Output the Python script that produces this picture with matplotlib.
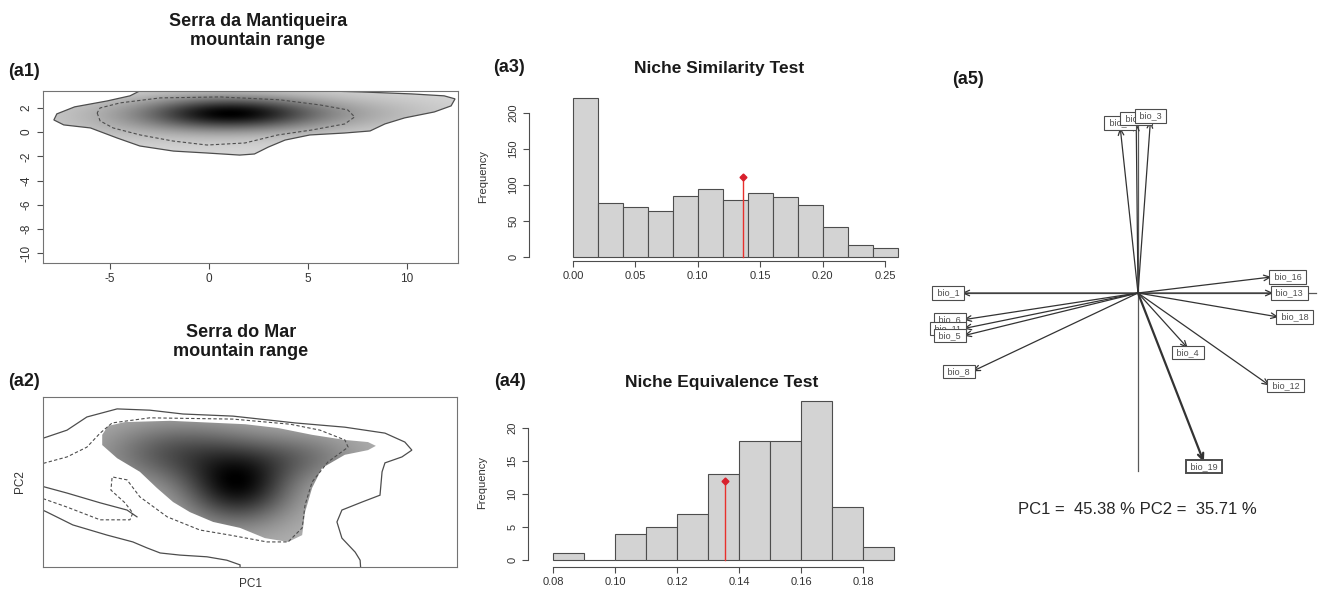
import numpy as np
import matplotlib
matplotlib.use("Agg")
import matplotlib.pyplot as plt
from matplotlib.patches import Polygon

plt.rcParams['font.family'] = ['Liberation Sans', 'DejaVu Sans']
plt.rcParams['axes.unicode_minus'] = False

W, H = 1326, 592

# ---- (a1) Serra da Mantiqueira, PC1 / PC2 units
a1_outer_x = [-3.5, -4.0, -5.15, -6.8, -7.7, -7.85, -7.35, -6.0, -4.65, -3.5, -1.8, -0.1, 1.55, 2.3,
              3.0, 3.85, 5.1, 6.85, 8.15, 8.9, 9.9, 11.4, 12.25, 12.45, 11.9, 10.25, 7.6, 5.7, 5.0, -3.0]
a1_outer_y = [3.41, 3.0, 2.58, 2.09, 1.51, 1.01, 0.6, 0.35, -0.48, -1.14, -1.56, -1.72, -1.89, -1.8,
              -1.23, -0.65, -0.23, -0.07, 0.1, 0.68, 1.18, 1.67, 2.17, 2.75, 3.0, 3.16, 3.33, 3.41, 4.5, 4.5]
a1_mid_x = [-5.66, -5.51, -4.85, -3.48, -1.82, -0.1, 1.82, 3.48, 5.2, 6.87, 7.37, 7.02, 5.61, 3.59,
            0.56, -2.47, -4.49, -5.51]
a1_mid_y = [1.59, 0.93, 0.35, -0.23, -0.73, -1.06, -0.89, -0.23, 0.18, 0.68, 1.26, 1.84, 2.25, 2.67,
            2.91, 2.83, 2.42, 2.0]
# density kernels (centre, spread, weight)
a1_kx = [1.0, -1.0, 6.0]
a1_ky = [1.6, 1.3, 1.6]
a1_sx = [2.8, 5.0, 4.0]
a1_sy = [0.9, 1.3, 1.0]
a1_kw = [1.0, 0.35, 0.25]
a1_xticks = [-5, 0, 5, 10]
a1_yticks = [2, 0, -2, -4, -6, -8, -10]

# ---- (a2) Serra do Mar (no tick values shown, arbitrary units)
a2_outer_x = [-1.2, 5.8, 10.6, 17.9, 25.8, 33.8, 45.9, 60.9, 72.9, 82.6, 87.4, 89.1, 86.7, 82.6, 81.9,
              81.4, 77.1, 72.2, 71.0, 72.2, 75.4, 76.6, 76.8, 47.6, 47.6, 44.4, 39.6, 33.1, 28.3, 25.1,
              21.7, 15.5, 7.2, 1.0, -1.2]
a2_outer_y = [29.9, 32.2, 35.3, 37.2, 36.9, 36.0, 35.5, 33.9, 32.9, 31.5, 29.4, 27.5, 25.9, 24.5, 22.4,
              16.9, 15.3, 13.4, 10.6, 6.8, 3.5, 1.6, -1.2, -1.2, 0.5, 1.6, 2.4, 2.8, 3.3, 4.5,
              5.9, 7.5, 9.9, 12.9, 13.9]
a2_inner_x = [-1.2, 0.5, 5.8, 13.8, 20.3, 22.7]
a2_inner_y = [19.3, 18.8, 17.4, 15.1, 13.4, 11.8]
a2_mid_x = [-1.2, 0.5, 5.8, 10.6, 13.8, 16.7, 25.8, 45.9, 59.7, 66.9, 72.9, 73.7, 68.8, 65.0, 63.3,
            62.6, 59.2, 54.1, 45.2, 37.9, 30.0, 23.4, 20.3, 16.7, 16.4, 19.8, 21.7, 21.0, 13.8, 5.8, -1.2]
a2_mid_y = [24.0, 24.5, 25.9, 28.2, 31.5, 33.9, 35.1, 34.8, 33.6, 32.2, 29.9, 28.2, 24.7, 20.0, 14.6,
            9.2, 5.9, 5.9, 7.5, 8.7, 11.8, 16.5, 20.5, 21.2, 18.1, 15.1, 12.7, 11.1, 11.1, 14.1, 16.5]
a2_occ_x = [14.3, 15.7, 19.8, 30.7, 48.8, 56.8, 65.0, 72.9, 78.5, 80.4, 78.5, 72.9, 67.4, 65.0, 63.3,
            62.6, 59.2, 53.6, 47.6, 41.1, 35.5, 31.4, 27.5, 23.4, 17.9, 14.3]
a2_occ_y = [31.1, 33.2, 34.1, 34.4, 33.6, 32.7, 31.1, 29.9, 29.4, 28.5, 27.5, 26.4, 23.3, 18.6, 12.9,
            7.5, 5.9, 6.8, 9.2, 10.6, 12.9, 15.3, 18.6, 22.4, 25.6, 28.7]
a2_kx = [47, 32, 62]
a2_ky = [19, 27, 26]
a2_sx = [9, 12, 10]
a2_sy = [6, 5, 4]
a2_kw = [1.0, 0.55, 0.35]

# ---- (a3) niche similarity test
a3_breaks = [0.00, 0.02, 0.04, 0.06, 0.08, 0.10, 0.12, 0.14, 0.16, 0.18, 0.20, 0.22, 0.24, 0.26]
a3_counts = [220, 75, 70, 64, 85, 94, 79, 89, 83, 72, 41, 16, 12]
a3_obs, a3_obs_h = 0.136, 111
a3_xticks = [0.00, 0.05, 0.10, 0.15, 0.20, 0.25]
a3_yticks = [0, 50, 100, 150, 200]

# ---- (a4) niche equivalence test
a4_breaks = [0.08, 0.09, 0.10, 0.11, 0.12, 0.13, 0.14, 0.15, 0.16, 0.17, 0.18, 0.19]
a4_counts = [1, 0, 4, 5, 7, 13, 18, 18, 24, 8, 2]
a4_obs, a4_obs_h = 0.1355, 12
a4_xticks = [0.08, 0.10, 0.12, 0.14, 0.16, 0.18]
a4_yticks = [0, 5, 10, 15, 20]

# ---- (a5) variable contributions
a5_names = ['bio_1', 'bio_6', 'bio_11', 'bio_5', 'bio_8', 'bio_2', 'bio_7', 'bio_3',
            'bio_16', 'bio_13', 'bio_18', 'bio_4', 'bio_12', 'bio_19']
a5_pc1 = [-0.99, -0.98, -0.98, -0.98, -0.93, -0.10, -0.01, 0.07,
          0.75, 0.76, 0.79, 0.28, 0.74, 0.37]
a5_pc2 = [0.0, -0.15, -0.20, -0.24, -0.44, 0.93, 0.955, 0.97,
          0.09, 0.0, -0.135, -0.31, -0.52, -0.95]
a5_text = "PC1 =  45.38 % PC2 =  35.71 %"


def box(l, t, r, b):
    return [l / W, 1 - b / H, (r - l) / W, (b - t) / H]


def shade(ax, kx, ky, sx, sy, kw, px, py, lo):
    x0, x1 = ax.get_xlim()
    y0, y1 = ax.get_ylim()
    gx, gy = np.meshgrid(np.linspace(x0, x1, 500), np.linspace(y0, y1, 250))
    z = np.zeros_like(gx)
    for cx, cy, a, b, w in zip(kx, ky, sx, sy, kw):
        z += w * np.exp(-0.5 * ((gx - cx) / a) ** 2 - 0.5 * ((gy - cy) / b) ** 2)
    z = lo + (1 - lo) * z / z.max()
    im = ax.imshow(z, extent=(x0, x1, y0, y1), origin='lower', cmap='gray_r', vmin=0, vmax=1,
                   aspect='auto', interpolation='bilinear', zorder=1)
    clip = Polygon(np.column_stack([px, py]), closed=True, fc='none', ec='none')
    ax.add_patch(clip)
    im.set_clip_path(clip)


def r_ticks(ax, size):
    ax.tick_params(direction='out', length=4, width=0.8, color='0.3', labelsize=size,
                   labelcolor='0.2')
    for lab in ax.get_yticklabels():
        lab.set_rotation(90)
        lab.set_va('center')


fig = plt.figure(figsize=(W / 100, H / 100), dpi=100)
line_c = '0.3'

# (a1)
ax1 = fig.add_axes(box(43, 91, 458, 263))
ax1.set_xlim(-8.4, 12.6)
ax1.set_ylim(-10.8, 3.4)
shade(ax1, a1_kx, a1_ky, a1_sx, a1_sy, a1_kw, a1_outer_x, a1_outer_y, 0.15)
ax1.add_patch(Polygon(np.column_stack([a1_outer_x, a1_outer_y]), closed=True, fill=False,
                      ec=line_c, lw=0.9, zorder=2))
ax1.add_patch(Polygon(np.column_stack([a1_mid_x, a1_mid_y]), closed=True, fill=False,
                      ec=line_c, lw=0.8, ls=(0, (3, 2)), zorder=2))
ax1.set_xticks(a1_xticks)
ax1.set_yticks(a1_yticks)
r_ticks(ax1, 8.5)
for s in ax1.spines.values():
    s.set_color('0.45')

# (a2)
ax2 = fig.add_axes(box(43, 397, 457, 567))
ax2.set_xlim(0, 100)
ax2.set_ylim(0, 40)
shade(ax2, a2_kx, a2_ky, a2_sx, a2_sy, a2_kw, a2_occ_x, a2_occ_y, 0.3)
ax2.add_patch(Polygon(np.column_stack([a2_outer_x, a2_outer_y]), closed=True, fill=False,
                      ec=line_c, lw=0.9, zorder=2))
ax2.plot(a2_inner_x, a2_inner_y, color=line_c, lw=0.9, zorder=2)
ax2.add_patch(Polygon(np.column_stack([a2_mid_x, a2_mid_y]), closed=True, fill=False,
                      ec=line_c, lw=0.8, ls=(0, (3, 2)), zorder=2))
ax2.set_xticks([])
ax2.set_yticks([])
ax2.set_xlabel('PC1', fontsize=8.5, color='0.2', labelpad=8)
ax2.set_ylabel('PC2', fontsize=8.5, color='0.2', labelpad=12)
for s in ax2.spines.values():
    s.set_color('0.45')


def hist_panel(ax, breaks, counts, obs, obs_h, xt, yt, fmt):
    ax.bar(breaks[:-1], counts, width=np.diff(breaks), align='edge', color='#d3d3d3',
           edgecolor='0.3', lw=0.8)
    ax.plot([obs, obs], [0, obs_h], color='#e8302c', lw=1.0)
    ax.plot([obs], [obs_h], marker='D', ms=3.5, color='#d8202c')
    ax.set_xticks(xt)
    ax.set_xticklabels([fmt % v for v in xt])
    ax.set_yticks(yt)
    for k in ('top', 'right'):
        ax.spines[k].set_visible(False)
    ax.spines['left'].set_bounds(yt[0], yt[-1])
    ax.spines['bottom'].set_bounds(xt[0], xt[-1])
    for k in ('left', 'bottom'):
        ax.spines[k].set_color('0.3')
    r_ticks(ax, 8)
    ax.set_ylabel('Frequency', fontsize=8, color='0.2')
    ax.yaxis.set_label_coords(-41 / 376, 0.5)


ax3 = fig.add_axes(box(529, 92, 905, 261))
ax3.set_xlim(-0.0353, 0.266)
ax3.set_ylim(-5.6, 229)
hist_panel(ax3, a3_breaks, a3_counts, a3_obs, a3_obs_h, a3_xticks, a3_yticks, '%.2f')

ax4 = fig.add_axes(box(528, 398, 905, 567))
ax4.set_xlim(0.0719, 0.1935)
ax4.set_ylim(-1.06, 24.5)
hist_panel(ax4, a4_breaks, a4_counts, a4_obs, a4_obs_h, a4_xticks, a4_yticks, '%.2f')

# (a5)
ax5 = fig.add_axes(box(905, 80, 1326, 530))
ax5.set_xlim((905 - 1138) / 178, (1326 - 1138) / 178)
ax5.set_ylim(-(530 - 293) / 178, (293 - 80) / 178)
ax5.axis('off')
ax5.plot([-1, 1], [0, 0], color='0.35', lw=0.9, zorder=1)
ax5.plot([0, 0], [-1, 1], color='0.35', lw=0.9, zorder=1)
for name, x, y in zip(a5_names, a5_pc1, a5_pc2):
    lw = 1.6 if name == 'bio_19' else 0.9
    ax5.annotate('', xy=(x, y), xytext=(0, 0), zorder=2,
                 arrowprops=dict(arrowstyle='->,head_length=0.45,head_width=0.2',
                                 color='0.2', lw=lw, shrinkA=0, shrinkB=0))
for name, x, y in zip(a5_names, a5_pc1, a5_pc2):
    if x > y and x > -y:
        ha, va = 'left', 'center'
    elif x > y:
        ha, va = 'center', 'top'
    elif x <= -y:
        ha, va = 'right', 'center'
    else:
        ha, va = 'center', 'bottom'
    ax5.text(x, y, ' ' + name + ' ', ha=ha, va=va, fontsize=6.5, color='0.3', zorder=3,
             bbox=dict(boxstyle='square,pad=0.25', fc='white', ec='0.3',
                       lw=1.4 if name == 'bio_19' else 0.8))
fig.text(1137 / W, 1 - 510 / H, a5_text, ha='center', va='center', fontsize=12, color='0.15')

# titles and panel tags
bold = dict(fontweight='bold', color='0.1')
fig.text(258 / W, 1 - 31 / H, 'Serra da Mantiqueira\nmountain range', ha='center', va='center',
         fontsize=13, linespacing=1.15, **bold)
fig.text(241 / W, 1 - 342 / H, 'Serra do Mar\nmountain range', ha='center', va='center',
         fontsize=13, linespacing=1.15, **bold)
fig.text(719 / W, 1 - 68 / H, 'Niche Similarity Test', ha='center', va='center', fontsize=12.5, **bold)
fig.text(722 / W, 1 - 382 / H, 'Niche Equivalence Test', ha='center', va='center', fontsize=12.5, **bold)
for tag, x, y in [('(a1)', 8, 72), ('(a2)', 8, 382), ('(a3)', 493, 68), ('(a4)', 494, 382),
                  ('(a5)', 952, 80)]:
    fig.text(x / W, 1 - y / H, tag, ha='left', va='center', fontsize=13, **bold)

fig.savefig('out.png', dpi=100)
